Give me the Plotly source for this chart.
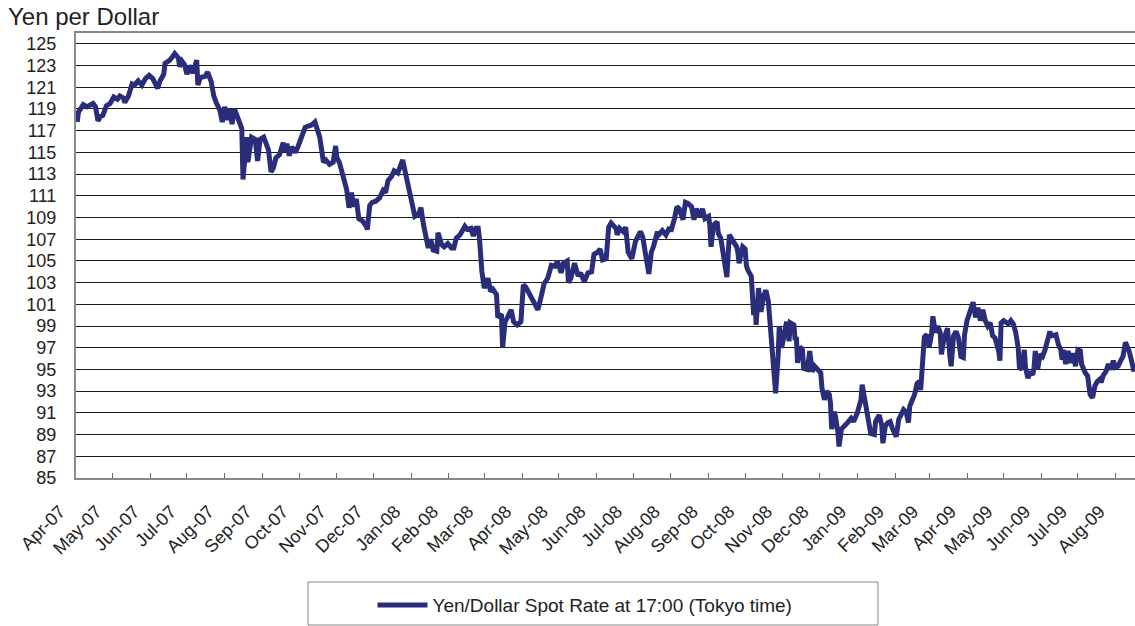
import plotly.graph_objects as go

# ---- data (date, yen per dollar) ----
dates_2007 = [
    "2007-04-02", "2007-04-03", "2007-04-07", "2007-04-10", "2007-04-15", "2007-04-17", "2007-04-19",
    "2007-04-21", "2007-04-23", "2007-04-26", "2007-04-29", "2007-05-02", "2007-05-05", "2007-05-07",
    "2007-05-10", "2007-05-11", "2007-05-14", "2007-05-17", "2007-05-19", "2007-05-22", "2007-05-25",
    "2007-05-28", "2007-05-31", "2007-06-03", "2007-06-07", "2007-06-09", "2007-06-12", "2007-06-13",
    "2007-06-17", "2007-06-21", "2007-06-24", "2007-06-25", "2007-06-27", "2007-06-29", "2007-07-01",
    "2007-07-03", "2007-07-06", "2007-07-09", "2007-07-10", "2007-07-12", "2007-07-16", "2007-07-18",
    "2007-07-21", "2007-07-23", "2007-07-25", "2007-07-28", "2007-07-30", "2007-08-01", "2007-08-03",
    "2007-08-05", "2007-08-07", "2007-08-09", "2007-08-12", "2007-08-15", "2007-08-16", "2007-08-19",
    "2007-08-20", "2007-08-23", "2007-08-26", "2007-08-28", "2007-08-30", "2007-09-02", "2007-09-04",
    "2007-09-06", "2007-09-08", "2007-09-10", "2007-09-12", "2007-09-15", "2007-09-18", "2007-09-19",
    "2007-09-21", "2007-09-23", "2007-09-25", "2007-09-28", "2007-09-30", "2007-10-03", "2007-10-06",
    "2007-10-08", "2007-10-11", "2007-10-14", "2007-10-16", "2007-10-18", "2007-10-21", "2007-10-23",
    "2007-10-26", "2007-10-29", "2007-10-31", "2007-11-01", "2007-11-03", "2007-11-06", "2007-11-09",
    "2007-11-11", "2007-11-13", "2007-11-15", "2007-11-17", "2007-11-19", "2007-11-22", "2007-11-25",
    "2007-11-26", "2007-11-28", "2007-11-30", "2007-12-03", "2007-12-06", "2007-12-09", "2007-12-11",
    "2007-12-13", "2007-12-16", "2007-12-18", "2007-12-21", "2007-12-25", "2007-12-28", "2007-12-31",
]
rates_2007 = [
    117.8, 118.7, 119.4, 119.2, 119.5, 119.2, 117.9,
    118.3, 118.4, 119.3, 119.5, 120.1, 119.9, 120.2,
    120.0, 119.6, 120.2, 121.3, 121.2, 121.6, 121.2,
    121.8, 122.1, 121.8, 120.9, 121.6, 122.2, 123.2,
    123.5, 124.1, 123.7, 122.9, 123.4, 123.1, 122.2,
    123.0, 122.3, 123.5, 121.2, 121.9, 122.0, 122.4,
    121.5, 120.2, 119.6, 118.9, 117.8, 119.2, 118.0,
    119.0, 117.6, 119.0, 118.1, 117.2, 112.5, 116.4,
    114.1, 116.4, 116.2, 114.2, 116.2, 116.4, 115.8,
    115.2, 113.2, 113.6, 114.5, 114.8, 115.9, 115.1,
    115.8, 114.7, 115.5, 115.0, 115.5, 116.5, 117.3,
    117.4, 117.5, 117.8, 117.0, 116.4, 114.1, 114.3,
    113.9, 114.1, 115.6, 114.5, 114.1, 112.8, 111.6,
    109.9, 111.3, 110.0, 110.7, 108.9, 108.7, 108.2,
    107.9, 110.1, 110.4, 110.5, 110.8, 111.5, 111.3,
    112.4, 112.8, 113.3, 113.1, 114.3, 112.6, 111.2,
]

dates_2008 = [
    "2008-01-04", "2008-01-07", "2008-01-09", "2008-01-11", "2008-01-13", "2008-01-15", "2008-01-17",
    "2008-01-19", "2008-01-22", "2008-01-23", "2008-01-26", "2008-01-28", "2008-01-31", "2008-02-03",
    "2008-02-05", "2008-02-07", "2008-02-10", "2008-02-12", "2008-02-14", "2008-02-16", "2008-02-19",
    "2008-02-21", "2008-02-23", "2008-02-25", "2008-02-26", "2008-02-28", "2008-03-01", "2008-03-04",
    "2008-03-06", "2008-03-08", "2008-03-11", "2008-03-12", "2008-03-15", "2008-03-16", "2008-03-18",
    "2008-03-20", "2008-03-23", "2008-03-25", "2008-03-28", "2008-03-31", "2008-04-02", "2008-04-04",
    "2008-04-07", "2008-04-10", "2008-04-13", "2008-04-14", "2008-04-17", "2008-04-19", "2008-04-22",
    "2008-04-25", "2008-04-28", "2008-04-30", "2008-05-03", "2008-05-05", "2008-05-08", "2008-05-09",
    "2008-05-11", "2008-05-14", "2008-05-17", "2008-05-19", "2008-05-22", "2008-05-25", "2008-05-28",
    "2008-05-30", "2008-06-02", "2008-06-04", "2008-06-06", "2008-06-09", "2008-06-11", "2008-06-13",
    "2008-06-17", "2008-06-18", "2008-06-20", "2008-06-23", "2008-06-25", "2008-06-26", "2008-06-27",
    "2008-06-30", "2008-07-03", "2008-07-07", "2008-07-09", "2008-07-11", "2008-07-14", "2008-07-16",
    "2008-07-18", "2008-07-21", "2008-07-22", "2008-07-25", "2008-07-28", "2008-07-31", "2008-08-01",
    "2008-08-04", "2008-08-06", "2008-08-08", "2008-08-11", "2008-08-13", "2008-08-15", "2008-08-18",
    "2008-08-20", "2008-08-22", "2008-08-25", "2008-08-27", "2008-08-29", "2008-09-01", "2008-09-02",
    "2008-09-03", "2008-09-05", "2008-09-08", "2008-09-09", "2008-09-11", "2008-09-16", "2008-09-18",
    "2008-09-22", "2008-09-24", "2008-09-25", "2008-09-26", "2008-09-29", "2008-10-01", "2008-10-02",
    "2008-10-03", "2008-10-06", "2008-10-08", "2008-10-09", "2008-10-10", "2008-10-12", "2008-10-14",
    "2008-10-16", "2008-10-18", "2008-10-20", "2008-10-22", "2008-10-24", "2008-10-26", "2008-10-28",
    "2008-10-29", "2008-10-31", "2008-11-03", "2008-11-04", "2008-11-06", "2008-11-07", "2008-11-10",
    "2008-11-11", "2008-11-12", "2008-11-13", "2008-11-15", "2008-11-17", "2008-11-18", "2008-11-21",
    "2008-11-23", "2008-11-25", "2008-11-27", "2008-11-29", "2008-12-02", "2008-12-03", "2008-12-05",
    "2008-12-07", "2008-12-09", "2008-12-10", "2008-12-11", "2008-12-13", "2008-12-14", "2008-12-16",
    "2008-12-17", "2008-12-19", "2008-12-21", "2008-12-24", "2008-12-27", "2008-12-29",
]
rates_2008 = [
    109.1, 109.3, 109.9, 108.4, 107.4, 106.2, 107.0,
    106.0, 105.9, 107.6, 106.5, 106.3, 106.6, 106.2,
    106.2, 107.1, 107.4, 107.9, 108.2, 107.9, 108.0,
    107.3, 108.0, 108.0, 107.1, 104.0, 102.5, 103.4,
    102.2, 102.4, 101.9, 99.8, 100.1, 97.0, 99.4,
    99.8, 100.5, 99.4, 99.1, 99.4, 102.8, 102.6,
    101.9, 101.2, 100.6, 100.5, 101.9, 102.9, 103.4,
    104.6, 104.5, 105.0, 103.9, 104.8, 105.0, 103.0,
    103.4, 104.8, 103.6, 103.9, 103.1, 103.9, 104.0,
    105.6, 105.8, 106.1, 105.1, 105.2, 108.1, 108.5,
    108.0, 107.4, 108.0, 107.7, 108.1, 106.3, 105.8,
    105.2, 106.8, 107.7, 107.2, 105.8, 103.8, 105.8,
    106.4, 107.7, 107.4, 107.8, 107.4, 108.1, 107.7,
    108.9, 110.0, 109.8, 108.8, 110.4, 110.3, 110.0,
    108.8, 109.8, 109.1, 109.8, 108.9, 109.1, 108.3,
    106.3, 108.3, 108.6, 107.5, 107.1, 103.5, 107.4,
    106.6, 106.3, 105.8, 104.8, 106.3, 106.1, 104.6,
    104.2, 103.6, 100.0, 101.4, 99.1, 102.5, 100.3,
    101.7, 102.3, 101.3, 98.0, 95.0, 92.8, 96.2,
    99.0, 97.0, 99.1, 99.4, 97.6, 99.3, 99.1,
    97.7, 98.0, 95.6, 97.1, 96.8, 95.1, 95.0,
    96.7, 94.8, 95.3, 95.1, 94.7, 93.3, 92.2,
    93.0, 92.7, 91.9, 89.5, 91.1, 90.7, 89.3,
    87.9, 89.5, 89.8, 90.1, 90.5, 90.2,
]

dates_2009 = [
    "2009-01-01", "2009-01-04", "2009-01-05", "2009-01-07", "2009-01-09", "2009-01-12", "2009-01-15",
    "2009-01-16", "2009-01-19", "2009-01-21", "2009-01-22", "2009-01-24", "2009-01-26", "2009-01-28",
    "2009-01-30", "2009-02-01", "2009-02-02", "2009-02-04", "2009-02-06", "2009-02-08", "2009-02-10",
    "2009-02-12", "2009-02-13", "2009-02-15", "2009-02-17", "2009-02-19", "2009-02-21", "2009-02-22",
    "2009-02-23", "2009-02-25", "2009-02-27", "2009-03-01", "2009-03-03", "2009-03-04", "2009-03-06",
    "2009-03-08", "2009-03-10", "2009-03-11", "2009-03-13", "2009-03-16", "2009-03-18", "2009-03-19",
    "2009-03-21", "2009-03-23", "2009-03-25", "2009-03-27", "2009-03-29", "2009-03-30", "2009-04-01",
    "2009-04-04", "2009-04-06", "2009-04-08", "2009-04-10", "2009-04-12", "2009-04-14", "2009-04-16",
    "2009-04-18", "2009-04-20", "2009-04-22", "2009-04-24", "2009-04-27", "2009-04-28", "2009-04-29",
    "2009-05-01", "2009-05-03", "2009-05-05", "2009-05-07", "2009-05-09", "2009-05-11", "2009-05-13",
    "2009-05-14", "2009-05-16", "2009-05-18", "2009-05-19", "2009-05-21", "2009-05-23", "2009-05-25",
    "2009-05-26", "2009-05-27", "2009-05-29", "2009-05-31", "2009-06-02", "2009-06-04", "2009-06-06",
    "2009-06-08", "2009-06-09", "2009-06-11", "2009-06-13", "2009-06-15", "2009-06-17", "2009-06-18",
    "2009-06-19", "2009-06-21", "2009-06-23", "2009-06-25", "2009-06-27", "2009-06-29", "2009-07-01",
    "2009-07-03", "2009-07-04", "2009-07-07", "2009-07-09", "2009-07-10", "2009-07-11", "2009-07-13",
    "2009-07-15", "2009-07-17", "2009-07-19", "2009-07-20", "2009-07-22", "2009-07-24", "2009-07-26",
    "2009-07-28", "2009-07-30", "2009-08-01", "2009-08-03", "2009-08-05", "2009-08-07", "2009-08-09",
    "2009-08-12", "2009-08-14", "2009-08-16",
]
rates_2009 = [
    91.0, 92.2, 93.6, 92.2, 90.7, 89.1, 89.0,
    90.2, 90.8, 89.9, 88.2, 89.8, 90.1, 90.2,
    89.5, 89.1, 88.8, 90.4, 90.8, 91.3, 91.1,
    90.1, 91.6, 92.2, 92.7, 93.7, 93.9, 93.1,
    95.3, 98.0, 98.2, 97.1, 98.3, 99.9, 98.4,
    99.0, 98.4, 96.4, 97.8, 98.8, 96.2, 95.3,
    98.1, 98.5, 97.9, 96.2, 96.1, 98.2, 99.5,
    100.5, 101.2, 99.8, 100.7, 99.5, 100.5, 99.5,
    99.0, 99.3, 98.1, 97.9, 96.7, 95.8, 99.3,
    99.5, 99.3, 99.2, 99.5, 99.2, 98.4, 97.0,
    95.2, 95.0, 96.8, 95.2, 94.2, 94.8, 94.5,
    95.2, 96.7, 95.0, 96.4, 96.2, 96.8, 97.8,
    98.5, 98.1, 98.1, 98.2, 97.3, 96.8, 95.9,
    96.8, 95.5, 96.7, 95.6, 96.5, 95.3, 96.8,
    96.7, 95.5, 94.7, 94.4, 93.5, 92.7, 92.4,
    93.5, 93.9, 94.1, 93.8, 94.5, 94.8, 95.5,
    95.0, 95.8, 95.2, 95.3, 95.8, 96.2, 97.5,
    96.7, 95.8, 94.8,
]

y_ticks = list(range(85, 126, 2))
series_name = "Yen/Dollar Spot Rate at 17:00 (Tokyo time)"
axis_title = "Yen per Dollar"

dates = dates_2007 + dates_2008 + dates_2009
rates = rates_2007 + rates_2008 + rates_2009

FONT = "Liberation Sans, Arial, Helvetica, sans-serif"
NAVY = "#2a2d7a"

fig = go.Figure()
fig.add_trace(go.Scatter(
    x=dates, y=rates, mode="lines", name=series_name,
    line=dict(color=NAVY, width=5),
))

fig.update_layout(
    width=1135, height=626,
    margin=dict(l=76, r=0, t=33, b=148),
    paper_bgcolor="white", plot_bgcolor="white",
    font=dict(family=FONT, size=18, color="#222"),
    title=dict(text=axis_title, x=8 / 1135, xanchor="left", xref="container",
               y=1 - 17 / 626, yanchor="middle", yref="container",
               font=dict(family=FONT, size=24, color="#222")),
    showlegend=True,
    legend=dict(orientation="h", x=0.28, xanchor="left", y=-0.243, yanchor="top",
                itemwidth=50,
                font=dict(family=FONT, size=19, color="#222"),
                bgcolor="rgba(0,0,0,0)", borderwidth=0),
    shapes=[dict(type="rect", xref="paper", yref="paper",
                 x0=232 / 1059, x1=802 / 1059, y0=-147 / 445, y1=-104 / 445,
                 line=dict(color="#888", width=1), fillcolor="rgba(0,0,0,0)")],
)

fig.update_xaxes(
    type="date", range=["2007-04-01", "2009-08-16 20:00"],
    tick0="2007-04-01", dtick="M1", tickformat="%b-%y", tickangle=-45,
    ticks="inside", ticklen=5, tickcolor="#666", tickwidth=1,
    ticklabelshift=-16, ticklabelstandoff=14,
    showgrid=False, showline=True, linecolor="#8a8a8a", linewidth=2, mirror=True,
    tickfont=dict(family=FONT, size=18, color="#222"), zeroline=False,
)
fig.update_yaxes(
    range=[85, 126], tickvals=y_ticks, ticks="",
    ticklabelstandoff=14,
    showgrid=True, gridcolor="#1a1a1a", gridwidth=1,
    showline=True, linecolor="#8a8a8a", linewidth=2, zeroline=False,
    tickfont=dict(family=FONT, size=18, color="#222"),
)

fig.write_html("out.html", config={"displayModeBar": False},
               post_script="document.body.style.margin='0';")
